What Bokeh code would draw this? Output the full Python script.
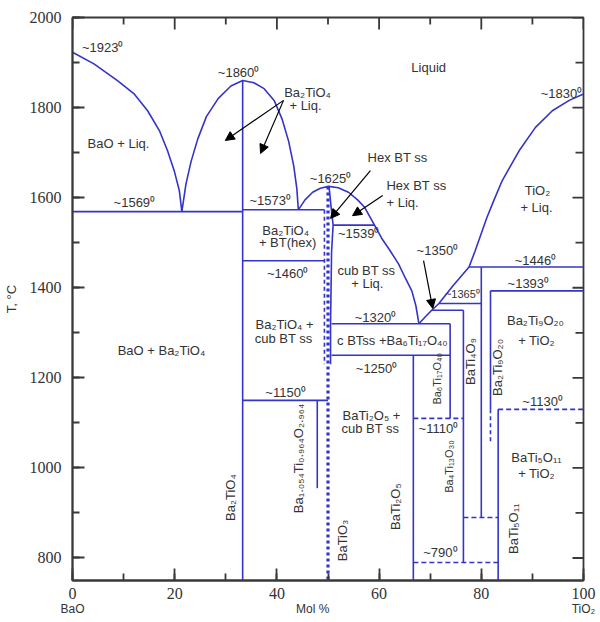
import math
from bokeh.plotting import figure
from bokeh.models import (Range1d, LinearAxis, SingleIntervalTicker, FixedTicker, Arrow,
                          NormalHead, ColumnDataSource)
from bokeh.core.properties import value
from bokeh.embed import file_html
from bokeh.resources import INLINE

# ---------------- data (x = mol % TiO2, T = deg C) ----------------
liq_bao_x = [0.0, 4.2, 8.8, 12.0, 14.7, 17.0, 18.6, 19.9, 20.9, 21.4]
liq_bao_t = [1923, 1897, 1860, 1831, 1793, 1749, 1704, 1660, 1616, 1569]

liq_b2t_x = [21.4, 22.2, 23.2, 24.5, 26.2, 28.5, 31.0, 33.3, 35.5, 37.5, 39.5, 41.0, 42.3, 43.3, 43.9, 44.2]
liq_b2t_t = [1569, 1630, 1680, 1730, 1780, 1820, 1848, 1860, 1855, 1842, 1815, 1775, 1725, 1670, 1620, 1573]

liq_bt_x = [44.2, 45.5, 47.0, 48.5, 50.1, 52.0, 54.0, 55.8, 57.2, 59.1, 60.5, 62.0, 63.8, 65.2, 66.4, 67.2, 67.8]
liq_bt_t = [1573, 1595, 1612, 1621, 1625, 1622, 1612, 1595, 1578, 1539, 1510, 1485, 1453, 1420, 1393, 1360, 1320]

liq_ti_x = [67.8, 69.0, 70.3, 71.7, 74.5, 77.6, 78.8, 80.2, 81.1, 82.5, 84.1, 87.4, 90.6, 93.9, 97.2, 100.0]
liq_ti_t = [1320, 1335, 1350, 1365, 1405, 1446, 1482, 1527, 1556, 1595, 1638, 1704, 1756, 1793, 1816, 1830]

# hexagonal BaTiO3 solid-solution right boundary
hex_x = [50.2, 50.6, 51.0, 50.7, 50.5, 50.5]
hex_t = [1625, 1580, 1539, 1480, 1320, 1230]

# invariant (isothermal) lines, solid
iso_t = [1569, 1573, 1539, 1460, 1150, 1320, 1250, 1350, 1365, 1446, 1393]
iso_x0 = [0.0, 33.3, 51.0, 33.3, 33.3, 50.7, 50.7, 70.3, 71.7, 77.6, 81.8]
iso_x1 = [33.3, 49.3, 59.1, 49.3, 50.0, 73.9, 73.9, 76.5, 80.0, 100.0, 100.0]

# isothermal lines, dashed
isod_t = [1130, 1110, 890, 790]
isod_x0 = [83.3, 66.7, 76.5, 66.7]
isod_x1 = [100.0, 76.5, 83.3, 83.3]

# compound lines (vertical), solid
comp_x = [33.3, 47.9, 66.7, 73.9, 76.5, 80.0, 81.8, 83.3]
comp_top = [1860, 1150, 1250, 1320, 1350, 1446, 1393, 1130]
comp_bot = [750, 955, 750, 1110, 790, 890, 1130, 750]

# vertical lines, dashed
vd_x = [49.3, 81.8]
vd_top = [1573, 1130]
vd_bot = [1230, 1055]

# BaTiO3 (dotted)
bt_x = [50.0, 50.0]
bt_t = [1625, 750]

# tick positions
x_major = [0, 20, 40, 60, 80, 100]
x_minor = [10, 30, 50, 70, 90]
y_major = [800, 1000, 1200, 1400, 1600, 1800, 2000]
y_minor = [900, 1100, 1300, 1500, 1700, 1900]

# end-member captions under the x axis
end_pos = [0, 47, 100]
end_text = ["BaO", "Mol %", "TiO₂"]

# ---------------- annotations ----------------
lab_text = ["~1923⁰", "~1860⁰", "Ba₂TiO₄", "+ Liq.", "Liquid", "~1830⁰", "BaO + Liq.",
            "~1569⁰", "~1573⁰", "Hex BT ss", "~1625⁰", "Hex BT ss", "+ Liq.",
            "TiO₂", "+ Liq.", "~1539⁰", "Ba₂TiO₄", "+ BT(hex)", "~1460⁰",
            "cub BT ss", "+ Liq.", "~1350⁰", "~1446⁰", "~1393⁰", "~1320⁰",
            "Ba₂TiO₄ +", "cub BT ss", "c BTss +Ba₆Ti₁₇O₄₀", "~1250⁰", "BaO + Ba₂TiO₄",
            "~1150⁰", "BaTi₂O₅ +", "cub BT ss", "~1110⁰", "~1130⁰",
            "Ba₂Ti₉O₂₀", "+ TiO₂", "BaTi₅O₁₁", "+ TiO₂", "~790⁰"]
lab_x = [5.9, 32.5, 46.0, 45.6, 69.7, 95.7, 9.0,
         12.1, 38.7, 63.6, 50.5, 67.3, 64.6,
         91.0, 90.8, 56.0, 41.7, 42.1, 42.1,
         57.5, 57.7, 71.4, 90.6, 89.2, 59.3,
         41.5, 41.3, 62.6, 59.5, 17.4,
         41.7, 58.5, 58.3, 71.6, 92.0,
         90.6, 90.8, 90.8, 90.8, 72.0]
lab_y = [1933, 1878, 1833, 1805, 1889, 1831, 1720,
         1589, 1594, 1689, 1643, 1627, 1589,
         1616, 1578, 1520, 1527, 1500, 1432,
         1438, 1409, 1483, 1460, 1409, 1334,
         1318, 1287, 1283, 1221, 1261,
         1167, 1116, 1087, 1087, 1147,
         1327, 1283, 1023, 988, 812]

small_text = ["~1365⁰"]
small_x = [76.3]
small_y = [1387]

rot_text = ["Ba₂TiO₄", "Ba₁.₀₅₄Ti₀.₉₆₄O₂.₉₆₄", "BaTiO₃", "BaTi₂O₅", "BaTi₄O₉", "Ba₂Ti₉O₂₀", "BaTi₅O₁₁"]
rot_x = [30.9, 44.2, 52.8, 63.2, 77.9, 83.2, 86.3]
rot_y = [934, 1021, 839, 914, 1236, 1223, 865]

rot_small_text = ["Ba₆Ti₁₇O₄₀", "Ba₄Ti₁₃O₃₀"]
rot_small_x = [71.4, 73.6]
rot_small_y = [1198, 1003]

arr_x0 = [41.3, 41.3, 58.3, 60.7, 68.7]
arr_y0 = [1816, 1816, 1660, 1605, 1460]
arr_x1 = [29.9, 36.8, 50.5, 54.8, 70.5]
arr_y1 = [1727, 1698, 1554, 1560, 1354]

# ---------------- figure ----------------
BLUE = "#3434c8"
AX = "#383838"
TXT = "#333333"
SANS = "Liberation Sans"
SERIF = "Liberation Serif"
X0, X1, Y0, Y1 = 0, 100, 750, 2000
W, H = 598, 622
BL, BR, BT, BB = 72, 15, 17, 42
FW, FH = W - BL - BR, H - BT - BB      # frame size in px
TW = 1.8                               # tick line width

p = figure(width=W, height=H, x_range=Range1d(X0, X1), y_range=Range1d(Y0, Y1),
           output_backend="svg", toolbar_location=None,
           min_border_left=BL, min_border_right=BR, min_border_top=BT, min_border_bottom=BB)
p.xgrid.visible = False
p.ygrid.visible = False
p.outline_line_color = AX
p.outline_line_width = 1.8
p.background_fill_color = "white"


def style_axis(ax):
    ax.axis_line_color = AX
    ax.axis_line_width = 1.8
    ax.major_tick_line_color = AX
    ax.minor_tick_line_color = AX
    ax.major_tick_line_width = TW
    ax.minor_tick_line_width = TW
    ax.major_tick_in = 12
    ax.major_tick_out = 0
    ax.minor_tick_in = 7
    ax.minor_tick_out = 0
    ax.major_label_text_font = SERIF
    ax.major_label_text_font_size = "16px"
    ax.major_label_text_color = TXT


p.xaxis.ticker = SingleIntervalTicker(interval=20, num_minor_ticks=2)
p.yaxis.ticker = SingleIntervalTicker(interval=200, num_minor_ticks=2)
for ax in p.xaxis:
    style_axis(ax)
    ax.major_label_standoff = 7
for ax in p.yaxis:
    style_axis(ax)
    ax.major_label_standoff = 11
    ax.axis_label = "T, °C"
    ax.axis_label_text_font = SANS
    ax.axis_label_text_font_size = "13px"
    ax.axis_label_text_font_style = "normal"
    ax.axis_label_text_color = TXT
    ax.axis_label_standoff = 8

# second row below the x axis: end members and axis title
cap = LinearAxis(ticker=FixedTicker(ticks=end_pos),
                 major_label_overrides={k: t for k, t in zip(end_pos, end_text)})
cap.axis_line_color = None
cap.major_tick_line_color = None
cap.minor_tick_line_color = None
cap.major_tick_out = 0
cap.major_tick_in = 0
cap.major_label_standoff = 0
cap.major_label_text_font = SANS
cap.major_label_text_font_size = "12px"
cap.major_label_text_color = TXT
p.add_layout(cap, "below")

# inward ticks on the top and right frame edges (lengths given in px)
ux = (X1 - X0) / FW
uy = (Y1 - Y0) / FH
p.segment(x0=x_major, y0=[Y1] * len(x_major), x1=x_major, y1=[Y1 - 12 * uy] * len(x_major),
          line_color=AX, line_width=TW)
p.segment(x0=x_minor, y0=[Y1] * len(x_minor), x1=x_minor, y1=[Y1 - 7 * uy] * len(x_minor),
          line_color=AX, line_width=TW)
p.segment(x0=[X1] * len(y_major), y0=y_major, x1=[X1 - 11 * ux] * len(y_major), y1=y_major,
          line_color=AX, line_width=TW)
p.segment(x0=[X1] * len(y_minor), y0=y_minor, x1=[X1 - 8 * ux] * len(y_minor), y1=y_minor,
          line_color=AX, line_width=TW)

# liquidus curves
for xs, ts in [(liq_bao_x, liq_bao_t), (liq_b2t_x, liq_b2t_t), (liq_bt_x, liq_bt_t), (liq_ti_x, liq_ti_t)]:
    p.line(xs, ts, line_color=BLUE, line_width=1.6)

p.line(hex_x, hex_t, line_color=BLUE, line_width=1.6)

p.segment(x0=iso_x0, y0=iso_t, x1=iso_x1, y1=iso_t, line_color=BLUE, line_width=1.6)
p.segment(x0=isod_x0, y0=isod_t, x1=isod_x1, y1=isod_t, line_color=BLUE, line_width=1.6,
          line_dash="5 3")
p.segment(x0=comp_x, y0=comp_top, x1=comp_x, y1=comp_bot, line_color=BLUE, line_width=1.6)
p.segment(x0=vd_x, y0=vd_top, x1=vd_x, y1=vd_bot, line_color=BLUE, line_width=1.6,
          line_dash="4 3")
p.line(bt_x, bt_t, line_color=BLUE, line_width=3.2, line_dash="3 3")

# text
p.text(x=lab_x, y=lab_y, text=lab_text, text_font=value(SANS), text_font_size="13px",
       text_color=TXT, text_align="center", text_baseline="middle")
p.text(x=small_x, y=small_y, text=small_text, text_font=value(SANS), text_font_size="11px",
       text_color=TXT, text_align="center", text_baseline="middle")
p.text(x=rot_x, y=rot_y, text=rot_text, angle=math.pi / 2, text_font=value(SANS),
       text_font_size="13px", text_color=TXT, text_align="center", text_baseline="middle")
p.text(x=rot_small_x, y=rot_small_y, text=rot_small_text, angle=math.pi / 2,
       text_font=value(SANS), text_font_size="11px", text_color=TXT,
       text_align="center", text_baseline="middle")

arr_src = ColumnDataSource(dict(x0=arr_x0, y0=arr_y0, x1=arr_x1, y1=arr_y1))
p.add_layout(Arrow(end=NormalHead(size=9, fill_color="black", line_color="black"),
                   x_start="x0", y_start="y0", x_end="x1", y_end="y1", source=arr_src,
                   line_color="black", line_width=1.2))

open("out.html", "w").write(file_html(p, INLINE))
